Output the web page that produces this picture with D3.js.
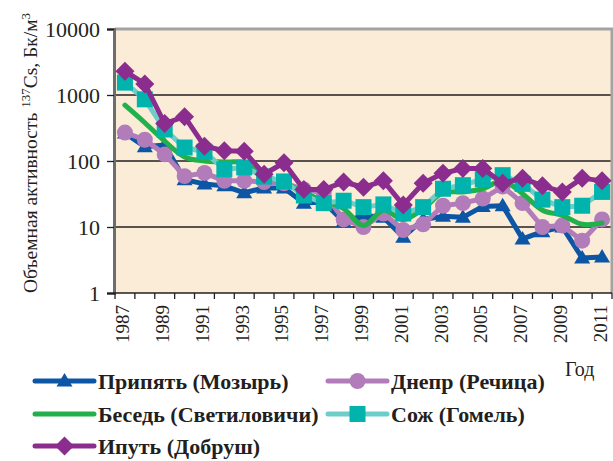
<!DOCTYPE html>
<html>
<head>
<meta charset="utf-8">
<script src="https://cdn.jsdelivr.net/npm/d3@7"></script>
<style>
  body { margin: 0; background: #fff; }
  text { font-family: "Liberation Serif", "Times New Roman", serif; fill: #231f20; }
</style>
</head>
<body>
<svg id="chart" width="613" height="461"></svg>
<script>
const years = [1987, 1988, 1989, 1990, 1991, 1992, 1993, 1994, 1995, 1996, 1997, 1998, 1999,
  2000, 2001, 2002, 2003, 2004, 2005, 2006, 2007, 2008, 2009, 2010, 2011];
const labelYears = [1987, 1989, 1991, 1993, 1995, 1997, 1999, 2001, 2003, 2005, 2007, 2009, 2011];
const yTicks = [1, 10, 100, 1000, 10000];

const pripyat = [265, 165, 175, 52, 45, 42, 33, 39, 39, 23, 24, 12, 15, 14, 7, 13, 14.5, 14, 20.5, 21, 6.6, 8.5, 10, 3.4, 3.5];
const dnepr = [270, 210, 126, 59, 66, 50, 50, 48, 46, 37, 33, 13, 10, 16, 9, 11, 21, 23, 27, 41, 23, 10, 10.5, 6.2, 13];
const besed = [700, 380, 200, 115, 100, 97, 93, 60, 47, 33, 25, 19, 10.5, 18, 13, 19, 33, 34, 38, 50, 32, 18, 15, 11, 11.5];
const sozh = [1540, 860, 300, 160, 138, 75, 80, 58, 49, 30, 23, 25, 20, 22, 16, 20, 38, 43, 53, 61, 45, 26, 20, 21, 34];
const iput = [2300, 1470, 370, 470, 168, 143, 140, 63, 94, 37, 37, 48, 40, 50, 21.5, 46, 65, 77, 77, 46, 55, 42, 34, 55, 50];

const series = [
  { name: "Припять (Мозырь)", values: pripyat, line: "#0d56a6", fill: "#0d56a6", marker: "triangle" },
  { name: "Днепр (Речица)", values: dnepr, line: "#b27cba", fill: "#b27cba", marker: "circle" },
  { name: "Беседь (Светиловичи)", values: besed, line: "#22b04c", fill: null, marker: null, smooth: true },
  { name: "Сож (Гомель)", values: sozh, line: "#6dcdc9", fill: "#00b3ad", marker: "square" },
  { name: "Ипуть (Добруш)", values: iput, line: "#8b2d8e", fill: "#8b2d8e", marker: "diamond" }
];

const svg = d3.select("#chart");
const m = { left: 115, right: 612, top: 29, bottom: 293 };

const x = d3.scaleBand().domain(years).range([m.left, m.right]).paddingInner(0).paddingOuter(0);
const y = d3.scaleLog().domain([1, 10000]).range([m.bottom, m.top]);
const cx = d => x(d) + x.bandwidth() / 2;

// plot background
svg.append("rect")
  .attr("x", m.left).attr("y", m.top)
  .attr("width", m.right - m.left).attr("height", m.bottom - m.top)
  .attr("fill", "#faecd6");

// gridlines
svg.append("g")
  .selectAll("line")
  .data([10, 100, 1000])
  .join("line")
  .attr("x1", m.left).attr("x2", m.right)
  .attr("y1", d => y(d)).attr("y2", d => y(d))
  .attr("stroke", "#231f20").attr("stroke-width", 1.3);

// frame top/right
svg.append("path")
  .attr("d", `M${m.left},${m.top}H${m.right}V${m.bottom}`)
  .attr("fill", "none").attr("stroke", "#a3a3a3").attr("stroke-width", 3);

// y axis
const yAxis = d3.axisLeft(y).tickValues(yTicks).tickFormat(d3.format("d")).tickSize(7).tickPadding(7);
const gy = svg.append("g").attr("transform", `translate(${m.left - 1},0)`).call(yAxis);
gy.select(".domain").attr("stroke", "#6d6d6d").attr("stroke-width", 3);
gy.selectAll(".tick line").attr("stroke", "#231f20").attr("stroke-width", 1.3);
gy.selectAll("text").style("font-size", "22px").attr("fill", "#231f20")
  .style("font-family", "Liberation Serif, serif");

// x axis: boundary ticks + rotated labels
svg.append("line")
  .attr("x1", m.left - 2).attr("x2", m.right)
  .attr("y1", m.bottom).attr("y2", m.bottom)
  .attr("stroke", "#231f20").attr("stroke-width", 1.5);
svg.append("g")
  .selectAll("line")
  .data(years.concat([years[years.length - 1] + 1]))
  .join("line")
  .attr("x1", d => d <= 2011 ? x(d) : m.right).attr("x2", d => d <= 2011 ? x(d) : m.right)
  .attr("y1", m.bottom).attr("y2", m.bottom + 6)
  .attr("stroke", "#231f20").attr("stroke-width", 1.3);

svg.append("g")
  .selectAll("text")
  .data(labelYears)
  .join("text")
  .attr("transform", d => `translate(${cx(d) + 4.5},305) rotate(-90)`)
  .attr("text-anchor", "end")
  .style("font-size", "19px")
  .text(d => d);

// series lines
const lineStraight = d3.line().x((d, i) => cx(years[i])).y(d => y(d));
const lineSmooth = d3.line().x((d, i) => cx(years[i])).y(d => y(d)).curve(d3.curveCatmullRom.alpha(0.5));

function markerPath(type) {
  if (type === "triangle") return "M0,-8L8,5.5L-8,5.5Z";
  if (type === "square") return "M-8,-8H8V8H-8Z";
  if (type === "diamond") return "M0,-9.5L9.5,0L0,9.5L-9.5,0Z";
  if (type === "circle") return d3.symbol(d3.symbolCircle, 200)();
  return "";
}

series.forEach(s => {
  const g = svg.append("g");
  g.append("path")
    .datum(s.values)
    .attr("d", s.smooth ? lineSmooth : lineStraight)
    .attr("fill", "none")
    .attr("stroke", s.line)
    .attr("stroke-width", 5)
    .attr("stroke-linejoin", "round")
    .attr("stroke-linecap", "round");
  if (s.marker) {
    g.selectAll(".m")
      .data(s.values)
      .join("path")
      .attr("class", "m")
      .attr("transform", (d, i) => `translate(${cx(years[i])},${y(d)})`)
      .attr("d", markerPath(s.marker))
      .attr("fill", s.fill);
  }
});

// y axis title
const yt = svg.append("text")
  .attr("transform", "translate(37,153) rotate(-90)")
  .attr("text-anchor", "middle")
  .style("font-size", "19.5px");
yt.append("tspan").text("Объемная активность ");
yt.append("tspan").attr("dy", -7).style("font-size", "13px").text("137");
yt.append("tspan").attr("dy", 7).text("Cs, Бк/м");
yt.append("tspan").attr("dy", -7).style("font-size", "13px").text("3");

// "Год"
svg.append("text").attr("x", 565).attr("y", 376).style("font-size", "20px").text("Год");

// legend
const legendPos = [
  { lx: 35, ly: 381 }, { lx: 328, ly: 381 },
  { lx: 35, ly: 414 }, { lx: 328, ly: 414 },
  { lx: 35, ly: 446 }
];
series.forEach((s, i) => {
  const p = legendPos[i];
  const g = svg.append("g").attr("transform", `translate(${p.lx},${p.ly})`);
  g.append("line").attr("x1", 0).attr("x2", 59).attr("y1", 0).attr("y2", 0)
    .attr("stroke", s.line).attr("stroke-width", 5).attr("stroke-linecap", "round");
  if (s.marker) {
    g.append("path").attr("transform", "translate(29.5,0)")
      .attr("d", markerPath(s.marker)).attr("fill", s.fill);
  }
  g.append("text").attr("x", 63).attr("y", 0).attr("dy", "0.35em")
    .style("font-size", "22px").style("font-weight", "bold")
    .text(s.name);
});
</script>
</body>
</html>
